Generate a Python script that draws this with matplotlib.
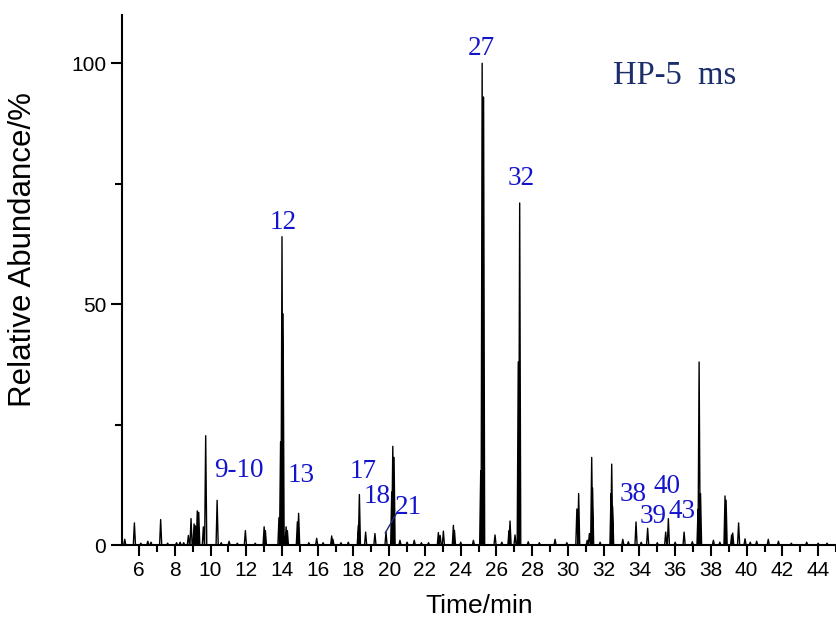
import numpy as np
import matplotlib
matplotlib.use('Agg')
import matplotlib.pyplot as plt
from matplotlib.ticker import MultipleLocator

# peak retention times (min) and relative abundances (%)
peak_times = [5.2, 5.74, 6.1, 6.49, 6.67, 7.21, 7.6, 8.1, 8.3, 8.5, 8.76, 8.91, 9.08,
              9.15, 9.26, 9.34, 9.6, 9.73, 10.37, 10.6, 11.04, 11.5, 11.95, 12.5,
              13.0, 13.07, 13.83, 13.92, 14.0, 14.06, 14.23, 14.3, 14.86, 14.93,
              15.5, 15.94, 16.3, 16.78, 16.85, 17.3, 17.71, 18.27, 18.33, 18.68,
              19.2, 19.82, 20.14, 20.2, 20.27, 20.6, 21.0, 21.4, 21.8, 22.2, 22.75,
              22.85, 23.03, 23.59, 23.65, 24.0, 24.71, 25.12, 25.2, 25.28, 25.92,
              26.3, 26.7, 26.76, 27.04, 27.22, 27.3, 27.78, 28.4, 29.28, 29.94,
              30.5, 30.6, 31.08, 31.2, 31.33, 31.38, 31.8, 32.41, 32.45, 32.5,
              33.07, 33.38, 33.81, 34.1, 34.46, 35.0, 35.47, 35.62, 36.0, 36.5,
              36.96, 37.28, 37.34, 37.42, 38.14, 38.5, 38.79, 38.85, 39.16, 39.22,
              39.55, 39.91, 40.2, 40.56, 41.21, 41.78, 42.5, 43.36, 44.0, 44.5]
peak_heights = [1.2, 4.6, 0.4, 0.8, 0.6, 5.3, 0.4, 0.5, 0.6, 0.5, 2.0, 5.5, 4.4,
                4.0, 7.1, 6.8, 3.8, 22.7, 9.3, 0.5, 0.8, 0.4, 3.0, 0.4,
                3.8, 3.0, 5.7, 21.4, 64.0, 48.0, 3.8, 3.0, 4.8, 6.6,
                0.5, 1.4, 0.5, 1.9, 1.2, 0.5, 0.6, 4.1, 10.5, 2.7,
                2.4, 2.7, 11.0, 20.5, 18.2, 1.0, 0.6, 1.0, 0.5, 0.5, 2.6,
                2.0, 2.9, 4.1, 3.0, 0.6, 1.0, 15.4, 100.0, 93.0, 2.1,
                0.6, 3.0, 5.0, 2.1, 38.0, 71.0, 0.7, 0.5, 1.2, 0.5,
                7.5, 10.7, 1.0, 2.4, 18.2, 11.8, 0.6, 10.7, 16.8, 8.0,
                1.2, 0.7, 4.8, 0.6, 3.5, 0.5, 2.7, 5.5, 0.6, 2.7,
                0.7, 7.4, 38.0, 10.7, 1.0, 0.6, 10.2, 9.3, 2.1, 2.5,
                4.6, 1.3, 0.6, 0.8, 1.2, 0.8, 0.4, 0.6, 0.4, 0.4]

# compound labels: text, x (min), y (%)
label_texts = ['12', '27', '32', '9-10', '13', '17', '18', '21', '38', '40', '39', '43']
label_x = [14.06, 25.14, 27.38, 11.6, 15.07, 18.53, 19.3, 21.08, 33.63, 35.52, 34.78, 36.41]
label_y = [67.0, 103.0, 76.0, 15.4, 14.5, 15.2, 10.0, 7.8, 10.5, 12.2, 5.9, 7.0]

# peak 21 leader line
leader_x = [19.78, 20.41]
leader_y = [2.55, 6.6]

half_w = 0.06
xs, ys = [5.05], [0.0]
for t, h in sorted(zip(peak_times, peak_heights)):
    xs += [t - half_w, t, t + half_w]
    ys += [0.0, h, 0.0]
xs.append(45.0)
ys.append(0.0)

fig = plt.figure(figsize=(8.36, 6.28), dpi=100)
ax = fig.add_axes([0.146, 0.132, 0.854, 0.844])

ax.plot(xs, ys, color='black', lw=1.0)
ax.plot(leader_x, leader_y, color='#1a2a7a', lw=1.0)

for txt, x, y in zip(label_texts, label_x, label_y):
    ax.text(x, y, txt, color='#1414cc', fontsize=19.5, family='Liberation Serif',
            ha='center', va='center')

ax.text(32.5, 97.5, 'HP-5  ms', color='#1c2f6b', fontsize=23.5,
        family='Liberation Serif', ha='left', va='center')

ax.set_xlim(5.05, 45.0)
ax.set_ylim(0, 110)
ax.spines['top'].set_visible(False)
ax.spines['right'].set_visible(False)
for s in ['left', 'bottom']:
    ax.spines[s].set_linewidth(1.5)

ax.set_xticks(np.arange(6, 45, 2))
ax.xaxis.set_minor_locator(MultipleLocator(1))
ax.yaxis.set_major_locator(MultipleLocator(50))
ax.yaxis.set_minor_locator(MultipleLocator(25))
ax.tick_params(which='major', length=8, width=1.5, labelsize=15)
ax.tick_params(which='minor', length=5, width=1.5)
for lab in ax.get_xticklabels() + ax.get_yticklabels():
    lab.set_family('Liberation Sans')

ax.set_xlabel('Time/min', fontsize=19, family='Liberation Sans', labelpad=10)
ax.set_ylabel('Relative Abundance/%', fontsize=22.5, family='Liberation Sans')
ax.yaxis.set_label_coords(-0.118, 0.557)

fig.savefig('out.png', dpi=100)
